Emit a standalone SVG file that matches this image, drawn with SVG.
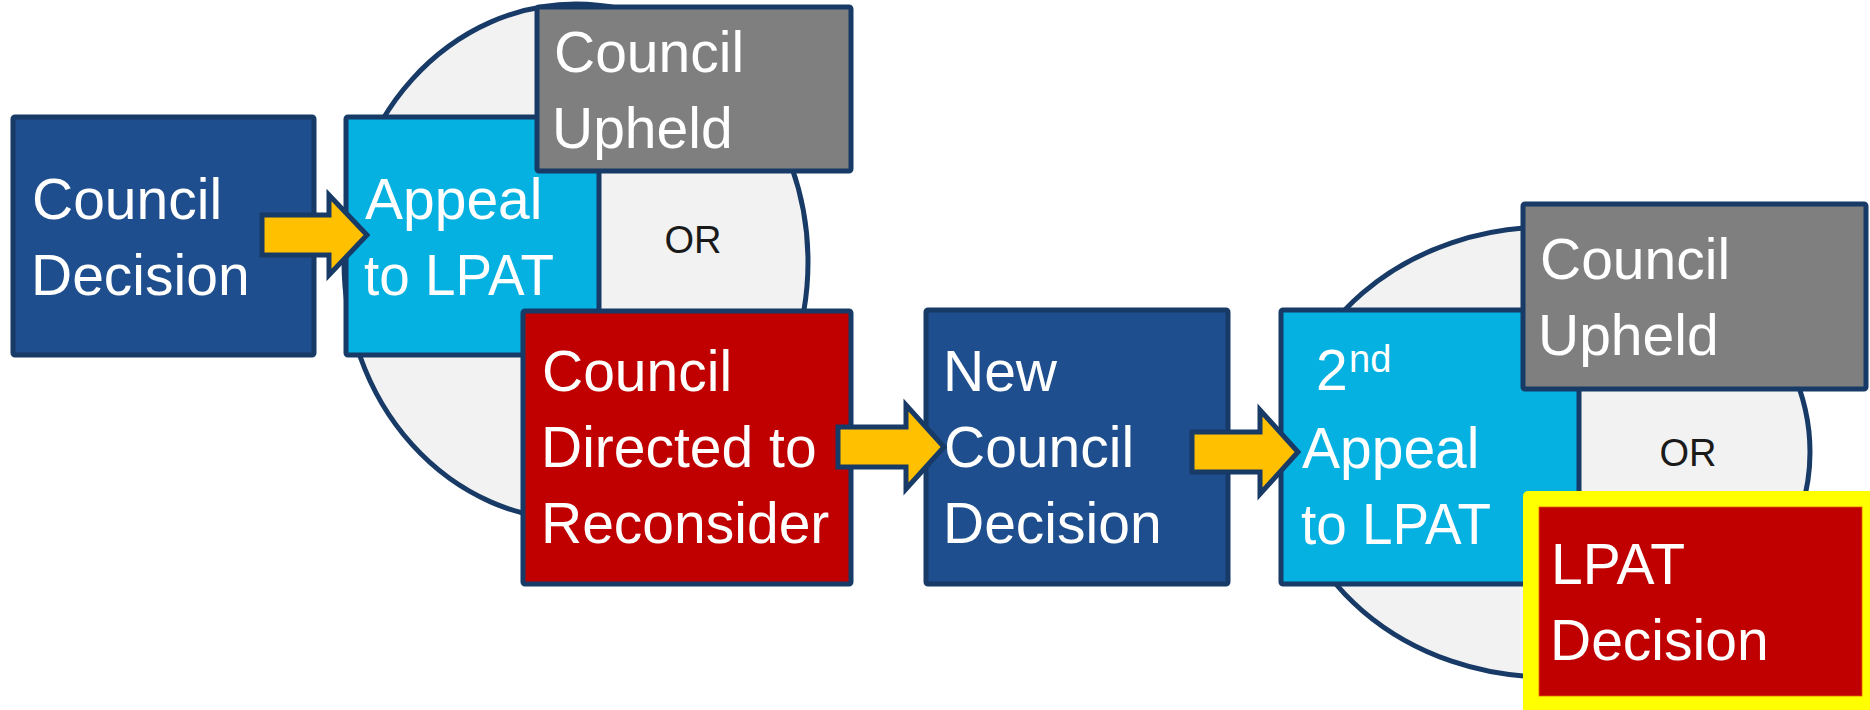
<svg xmlns="http://www.w3.org/2000/svg" width="1870" height="710" viewBox="0 0 1870 710">
<defs>
<style>
.box{stroke:#173A66;stroke-width:5}
.dark{fill:#1E4E8D}
.light{fill:#05B1E1}
.grey{fill:#7F7F7F}
.red{fill:#C00000}
.ell{fill:#F2F2F2;stroke:#173A66;stroke-width:5}
.arrow{fill:#FFC000;stroke:#173A66;stroke-width:5;stroke-linejoin:miter}
.t{font-family:"Liberation Sans",Arial,sans-serif;font-size:57px;fill:#FFFFFF}
.or{font-family:"Liberation Sans",Arial,sans-serif;font-size:38px;fill:#1A1A1A;text-anchor:middle}
</style>
</defs>
<rect width="1870" height="710" fill="#FFFFFF"/>

<g id="outcome-bubble-1">
<ellipse class="ell" cx="576" cy="262" rx="232" ry="258"/>
<text class="or" x="693" y="253">OR</text>
</g>
<g id="outcome-bubble-2">
<ellipse class="ell" cx="1548" cy="452" rx="262" ry="225"/>
<text class="or" x="1688" y="466">OR</text>
</g>

<g id="council-decision">
<rect class="box dark" x="13" y="117" width="301" height="238" rx="2"/>
<text class="t"><tspan x="32" y="219">Council</tspan><tspan x="31" y="295">Decision</tspan></text>
</g>

<g id="appeal-to-lpat">
<rect class="box light" x="346" y="117" width="253" height="238" rx="2"/>
<text class="t"><tspan x="365" y="219">Appeal</tspan><tspan x="364" y="295" textLength="190" lengthAdjust="spacingAndGlyphs">to LPAT</tspan></text>
</g>

<g id="council-upheld-1">
<rect class="box grey" x="537" y="7" width="314" height="164" rx="2"/>
<text class="t"><tspan x="554" y="72">Council</tspan><tspan x="552" y="148">Upheld</tspan></text>
</g>

<g id="council-directed">
<rect class="box red" x="523" y="311" width="328" height="273" rx="2"/>
<text class="t"><tspan x="542" y="391">Council</tspan><tspan x="541" y="467">Directed to</tspan><tspan x="541" y="543">Reconsider</tspan></text>
</g>

<g id="new-council-decision">
<rect class="box dark" x="926" y="310" width="302" height="274" rx="2"/>
<text class="t"><tspan x="943" y="391">New</tspan><tspan x="944" y="467">Council</tspan><tspan x="943" y="543">Decision</tspan></text>
</g>

<g id="second-appeal">
<rect class="box light" x="1281" y="310" width="298" height="274" rx="2"/>
<text class="t"><tspan x="1316" y="390">2</tspan><tspan x="1349" y="372" style="font-size:38px">nd</tspan></text>
<text class="t"><tspan x="1302" y="468">Appeal</tspan><tspan x="1301" y="544" textLength="190" lengthAdjust="spacingAndGlyphs">to LPAT</tspan></text>
</g>

<g id="council-upheld-2">
<rect class="box grey" x="1523" y="204" width="343" height="185" rx="2"/>
<text class="t"><tspan x="1540" y="279">Council</tspan><tspan x="1538" y="355">Upheld</tspan></text>
</g>

<g id="lpat-decision">
<rect x="1523" y="491" width="360" height="230" rx="5" fill="#FFFF00"/>
<rect x="1539" y="507" width="323" height="189" fill="#C00000" stroke="#E06000" stroke-width="0.8"/>
<text class="t"><tspan x="1551" y="584">LPAT</tspan><tspan x="1550" y="660">Decision</tspan></text>
</g>

<g id="connectors">
<polygon class="arrow" points="262,215 329,215 329,195 367,235 329,275 329,255 262,255"/>
<polygon class="arrow" points="838,427 906,427 906,405 944,447 906,489 906,467 838,467"/>
<polygon class="arrow" points="1192,432 1260,432 1260,410 1298,452 1260,494 1260,472 1192,472"/>
</g>
</svg>
